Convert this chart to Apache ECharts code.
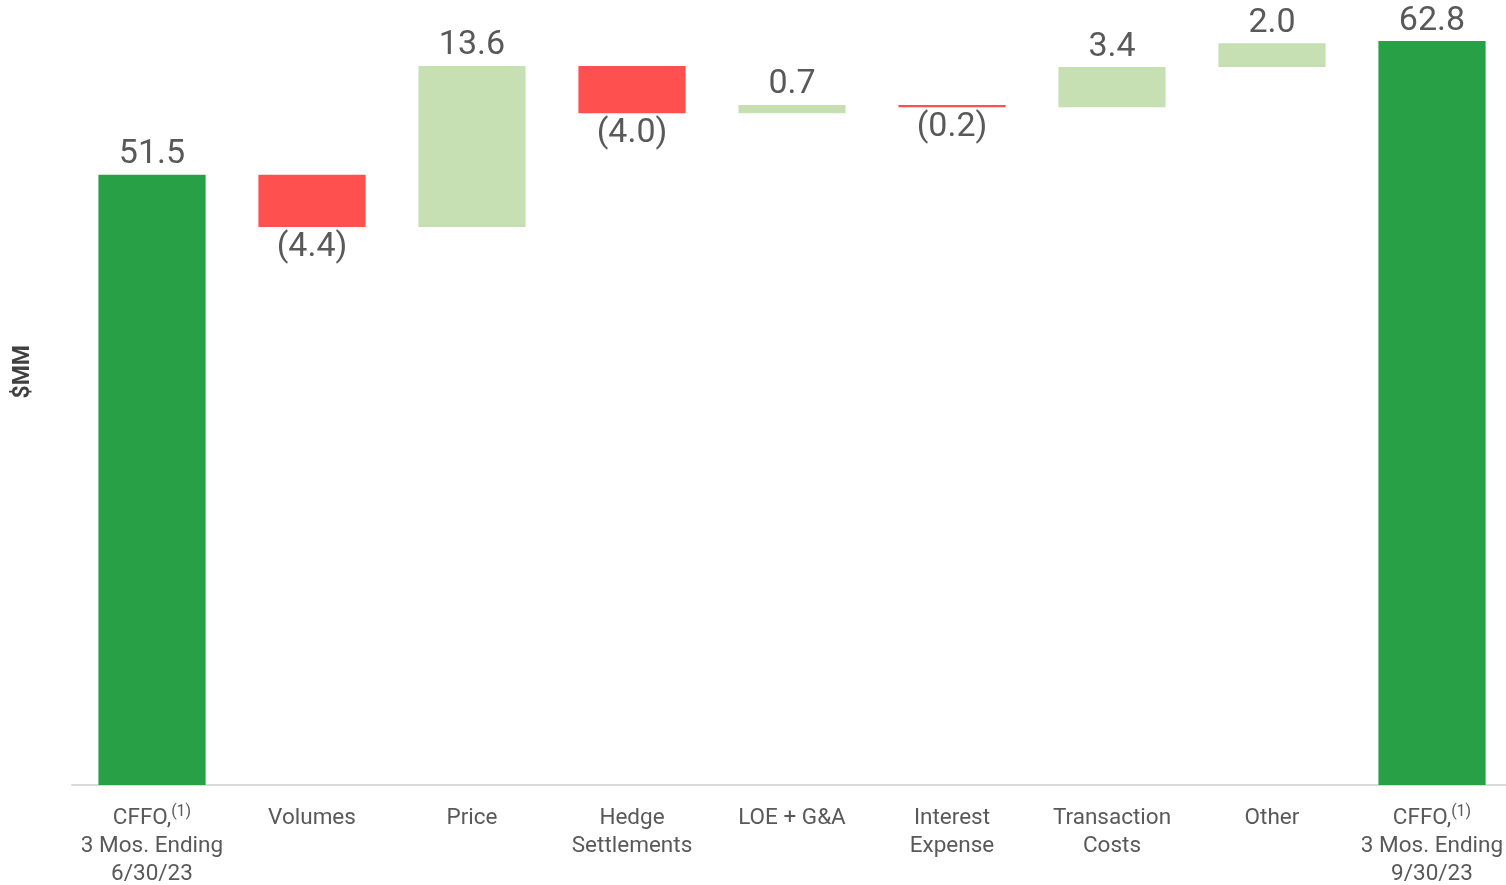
<!DOCTYPE html>
<html>
<head>
<meta charset="utf-8">
<script src="https://cdn.jsdelivr.net/npm/echarts@6/dist/echarts.min.js"></script>
<style>html,body{margin:0;padding:0;background:#fff}#c{width:1506px;height:885px}</style>
</head>
<body>
<div id="c"></div>
<script>
const categories = [
  'CFFO,{sup|(1)}\n3 Mos. Ending\n6/30/23',
  'Volumes', 'Price', 'Hedge\nSettlements', 'LOE + G&A',
  'Interest\nExpense', 'Transaction\nCosts', 'Other',
  'CFFO,{sup|(1)}\n3 Mos. Ending\n9/30/23'
];
const totals    = [51.5, null, null, null, null, null, null, null, 62.8];
const increases = [null, null, 13.6, null, 0.7, null, 3.4, 2.0, null];
const decreases = [null, 4.4, null, 4.0, null, 0.2, null, null, null];
const yAxisTitle = '$MM';

// invisible base for floating bars
const base = [];
let run = 0;
for (let i = 0; i < categories.length; i++) {
  if (totals[i] != null) { base.push(0); run = totals[i]; }
  else if (increases[i] != null) { base.push(run); run += increases[i]; }
  else { run -= decreases[i]; base.push(run); }
}

const labelColor = '#595959';
const font = 'Roboto, "Open Sans", sans-serif';
const valueLabel = { show: true, distance: 3, color: labelColor, fontSize: 34, fontFamily: font };
const chart = echarts.init(document.getElementById('c'));
chart.setOption({
  backgroundColor: '#fff',
  animation: false,
  grid: { left: 72, top: 41, bottom: 100, width: 1440, outerBoundsMode: 'none', containLabel: false },
  xAxis: {
    type: 'category',
    data: categories,
    axisLine: { lineStyle: { color: '#D9D9D9', width: 2 } },
    axisTick: { show: false },
    axisLabel: {
      interval: 0, margin: 19, color: labelColor, fontSize: 22.5, lineHeight: 28,
      fontFamily: font,
      rich: { sup: { fontSize: 16, color: labelColor, verticalAlign: 'top', lineHeight: 28, padding: [0, 0, 24, 0] } }
    }
  },
  yAxis: {
    type: 'value', min: 0, max: v => v.max, show: false, splitLine: { show: false }
  },
  graphic: [{
    type: 'text', left: 12, top: 345, rotation: Math.PI / 2,
    style: { text: yAxisTitle, fill: '#404040', font: 'bold 23px ' + font }
  }],
  series: [
    { type: 'bar', stack: 'w', data: base, itemStyle: { color: 'transparent' }, silent: true, barWidth: '67%' },
    { type: 'bar', stack: 'w', data: totals, itemStyle: { color: '#28A146' },
      label: Object.assign({ position: 'top', formatter: p => p.value.toFixed(1) }, valueLabel) },
    { type: 'bar', stack: 'w', data: increases, itemStyle: { color: '#C6E0B4' },
      label: Object.assign({ position: 'top', formatter: p => p.value.toFixed(1) }, valueLabel) },
    { type: 'bar', stack: 'w', data: decreases, itemStyle: { color: '#FF5050' },
      label: Object.assign({ position: 'bottom', formatter: p => '(' + p.value.toFixed(1) + ')' }, valueLabel) }
  ]
});
</script>
</body>
</html>
